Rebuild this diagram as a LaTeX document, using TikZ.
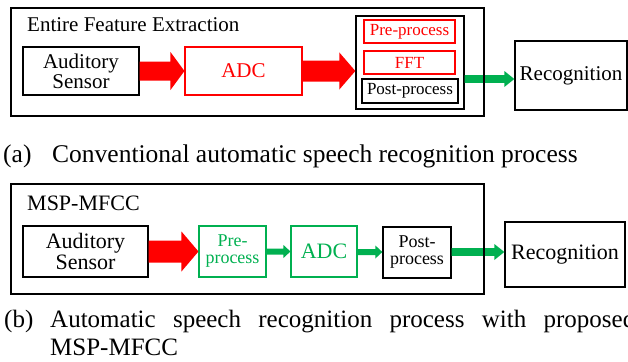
\documentclass[tikz,border=0pt]{standalone}
\usepackage{fontspec}
\setmainfont{Liberation Serif}
\usetikzlibrary{calc}
\definecolor{mygreen}{RGB}{0,176,80}
\definecolor{myred}{RGB}{255,0,0}
\newcommand\fs[1]{\fontsize{#1}{#1}\selectfont}
\newcommand\blockarrow[6]{%
  \fill[#6] ($(#1)+(0,-#3)$) -- ($(#2)+(-#5,-#3)$) -- ($(#2)+(-#5,-#4)$) -- (#2)
    -- ($(#2)+(-#5,#4)$) -- ($(#2)+(-#5,#3)$) -- ($(#1)+(0,#3)$) -- cycle;}
\begin{document}
\begin{tikzpicture}[x=1pt,y=-1pt,
  box/.style={draw=black,line width=1.3pt,inner sep=0pt,align=center,text=black},
  rbox/.style={draw=myred,line width=1.1pt,inner sep=0pt,align=center,text=myred},
  gbox/.style={draw=mygreen,line width=1.1pt,inner sep=0pt,align=center,text=mygreen},
  outer/.style={draw=black,line width=1.6pt,inner sep=0pt},
  lbl/.style={inner sep=0pt,anchor=base west}]
\useasboundingbox (0,0) rectangle (628,361);
% ---------- (a) ----------
\node[lbl,font=\fs{21}] (titleA) at (27,32) {Entire Feature Extraction};
\node[box,minimum width=116pt,minimum height=48pt,font={\fontsize{21}{20}\selectfont}] (audA) at (81,71) {Auditory\\Sensor};
\node[rbox,minimum width=117pt,minimum height=48pt,font=\fs{21}] (adcA) at (243.5,71) {ADC};
\node[box,minimum width=108pt,minimum height=93pt] (innerA) at (410,62.5) {};
\node[rbox,minimum width=91pt,minimum height=23pt,font=\fs{17}] (preA) at (409.5,31.5) {Pre-process};
\node[rbox,minimum width=91pt,minimum height=23pt,font=\fs{17}] (fftA) at (409.5,62.5) {FFT};
\node[box,minimum width=96pt,minimum height=24pt,font=\fs{17}] (postA) at (410,91) {Post-process};
\node[box,minimum width=112pt,minimum height=69pt,font=\fs{21}] (recA) at (571,75.5) {Recognition};
\blockarrow{audA.east}{adcA.west}{9.5}{19}{14}{myred}
\coordinate (r2e) at (innerA.west |- adcA.east);
\blockarrow{adcA.east}{r2e}{10.5}{18.5}{16}{myred}
\coordinate (ga) at (0,79);
\coordinate (g1s) at (innerA.east |- ga);
\coordinate (g1e) at (recA.west |- ga);
\blockarrow{g1s}{g1e}{3.8}{8}{10}{mygreen}
\node[outer,minimum width=473pt,minimum height=108pt] (outerA) at (247.5,62) {};
\node[lbl,font=\fs{25.5}] (capAl) at (3,162) {(a)};
\node[lbl,font=\fs{25.5}] (capA) at (52,162) {Conventional automatic speech recognition process};
% ---------- (b) ----------
\node[lbl,font=\fs{22}] (titleB) at (27,210) {MSP-MFCC};
\node[box,minimum width=125pt,minimum height=51pt,font={\fontsize{22}{21}\selectfont}] (audB) at (85.5,251.5) {Auditory\\Sensor};
\node[gbox,minimum width=67pt,minimum height=51pt,font={\fontsize{18}{17}\selectfont}] (preB) at (232.5,251.5) {Pre-\\process};
\node[gbox,minimum width=66pt,minimum height=51pt,font=\fs{22}] (adcB) at (324,251.5) {ADC};
\node[box,minimum width=68pt,minimum height=51pt,font={\fontsize{18}{17}\selectfont}] (postB) at (417,252.5) {Post-\\process};
\node[box,minimum width=120pt,minimum height=65pt,font=\fs{22}] (recB) at (565,254.5) {Recognition};
\blockarrow{audB.east}{preB.west}{11}{20}{17}{myred}
\blockarrow{preB.east}{adcB.west}{3}{6.5}{7}{mygreen}
\coordinate (gb) at (0,252);
\coordinate (g2s) at (adcB.east |- gb);
\coordinate (g2e) at (postB.west |- gb);
\blockarrow{g2s}{g2e}{3}{6.5}{7}{mygreen}
\coordinate (g3s) at (postB.east |- gb);
\coordinate (g3e) at (recB.west |- gb);
\blockarrow{g3s}{g3e}{3.8}{8}{10}{mygreen}
\node[outer,minimum width=473pt,minimum height=110pt] (outerB) at (247.5,239) {};
\node[lbl,font=\fs{25}] (capBl) at (4,327) {(b)};
\node[lbl,font=\fs{25}] (capB) at (50,327) {\makebox[585pt][s]{Automatic speech recognition process with proposed}};
\node[lbl,font=\fs{25}] (capB2) at (50,355) {MSP-MFCC};
\end{tikzpicture}
\end{document}
